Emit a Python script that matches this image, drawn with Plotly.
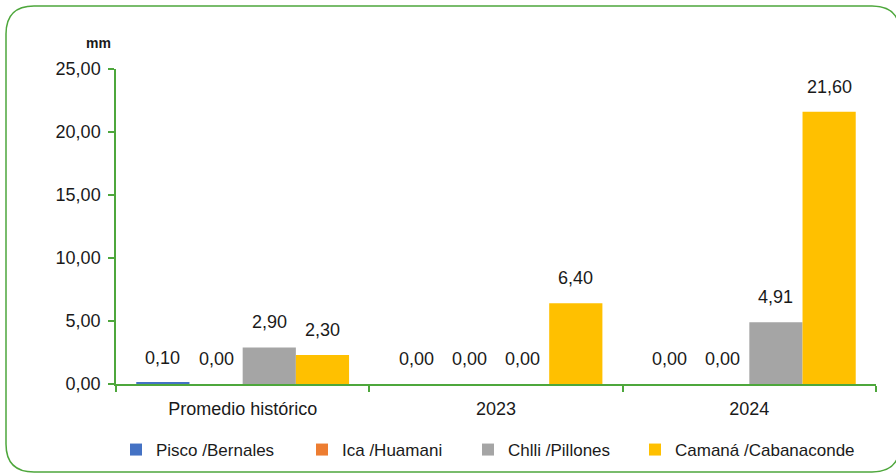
import plotly.graph_objects as go

# Precipitation (mm) by station and period
categories = ["Promedio histórico", "2023", "2024"]
series_names = ["Pisco /Bernales", "Ica /Huamani", "Chlli /Pillones", "Camaná /Cabanaconde"]
pisco = [0.10, 0.00, 0.00]
ica = [0.00, 0.00, 0.00]
chili = [2.90, 0.00, 4.91]
camana = [2.30, 6.40, 21.60]
colors = ["#4472C4", "#ED7D31", "#A5A5A5", "#FFC000"]
y_ticks = [0, 5, 10, 15, 20, 25]

FONT = "Liberation Sans, Arial, sans-serif"
GREEN = "#4EA73C"
TXT = "#1a1a1a"

W, H = 896, 474
L, R, T, B = 116, 20, 69, 90
pw, ph = W - L - R, H - T - B
BARGAP = 0.16


def px_x(v):
    return (v - L) / pw


def px_y(v):
    return (H - B - v) / ph


series = [pisco, ica, chili, camana]
n = len(series)
bar_px = pw / len(categories) * (1 - BARGAP) / n

fig = go.Figure()
legend_ids = ["legend", "legend2", "legend3", "legend4"]
for i, (name, vals, col) in enumerate(zip(series_names, series, colors)):
    fig.add_trace(go.Bar(
        name=name, x=categories, y=vals, marker_color=col,
        marker_line_width=0, legend=legend_ids[i],
    ))
    # value labels above each bar (x given as category index)
    for j, v in enumerate(vals):
        fig.add_annotation(
            x=j, y=v, xref="x", yref="y",
            xshift=(i - (n - 1) / 2) * bar_px, yshift=25,
            text=f"{v:.2f}".replace(".", ","), showarrow=False,
            font=dict(family=FONT, size=18, color=TXT),
        )

# rounded green frame around the whole chart (right side runs past the page edge)
x0, x1, y0, y1 = px_x(6), px_x(900), px_y(472), px_y(6)
rx, ry = 28 / pw, 28 / ph
path = (f"M {x0+rx},{y1} L {x1-rx},{y1} Q {x1},{y1} {x1},{y1-ry} "
        f"L {x1},{y0+ry} Q {x1},{y0} {x1-rx},{y0} L {x0+rx},{y0} "
        f"Q {x0},{y0} {x0},{y0+ry} L {x0},{y1-ry} Q {x0},{y1} {x0+rx},{y1} Z")
fig.add_shape(type="path", path=path, xref="paper", yref="paper",
              line=dict(color=GREEN, width=1.5), layer="below")

fig.add_annotation(text="<b>mm</b>", x=px_x(84), y=px_y(33), xref="paper", yref="paper",
                   showarrow=False, font=dict(family=FONT, size=14, color=TXT))

legend_style = dict(orientation="h", xanchor="left", y=px_y(450), yanchor="middle",
                    font=dict(family=FONT, size=17, color=TXT), itemwidth=30,
                    bgcolor="rgba(0,0,0,0)")
legend_text_px = [153, 339, 505, 672]
legends = {lid: dict(legend_style, x=px_x(tx - 37)) for lid, tx in zip(legend_ids, legend_text_px)}

fig.update_layout(
    width=W, height=H,
    margin=dict(l=L, r=R, t=T, b=B, autoexpand=False),
    paper_bgcolor="white", plot_bgcolor="white",
    barmode="group", bargap=BARGAP, bargroupgap=0,
    separators=",.",
    font=dict(family=FONT, size=17, color=TXT),
    showlegend=True,
    xaxis=dict(
        type="category", range=[-0.5, len(categories) - 0.5],
        showline=True, linecolor=GREEN, linewidth=1.5,
        ticks="outside", tickson="boundaries", tickcolor=GREEN, ticklen=6, tickwidth=1.5,
        showgrid=False, ticklabelstandoff=8, automargin=False,
        tickfont=dict(family=FONT, size=18, color=TXT),
    ),
    yaxis=dict(
        range=[0, 25], tickvals=y_ticks, tickformat=".2f",
        showline=True, linecolor=GREEN, linewidth=1.5,
        ticks="outside", tickcolor=GREEN, ticklen=6, tickwidth=1.5,
        showgrid=False, zeroline=False, automargin=False, ticklabelstandoff=4,
        tickfont=dict(family=FONT, size=18, color=TXT),
    ),
    **legends,
)

fig.write_html("out.html")
